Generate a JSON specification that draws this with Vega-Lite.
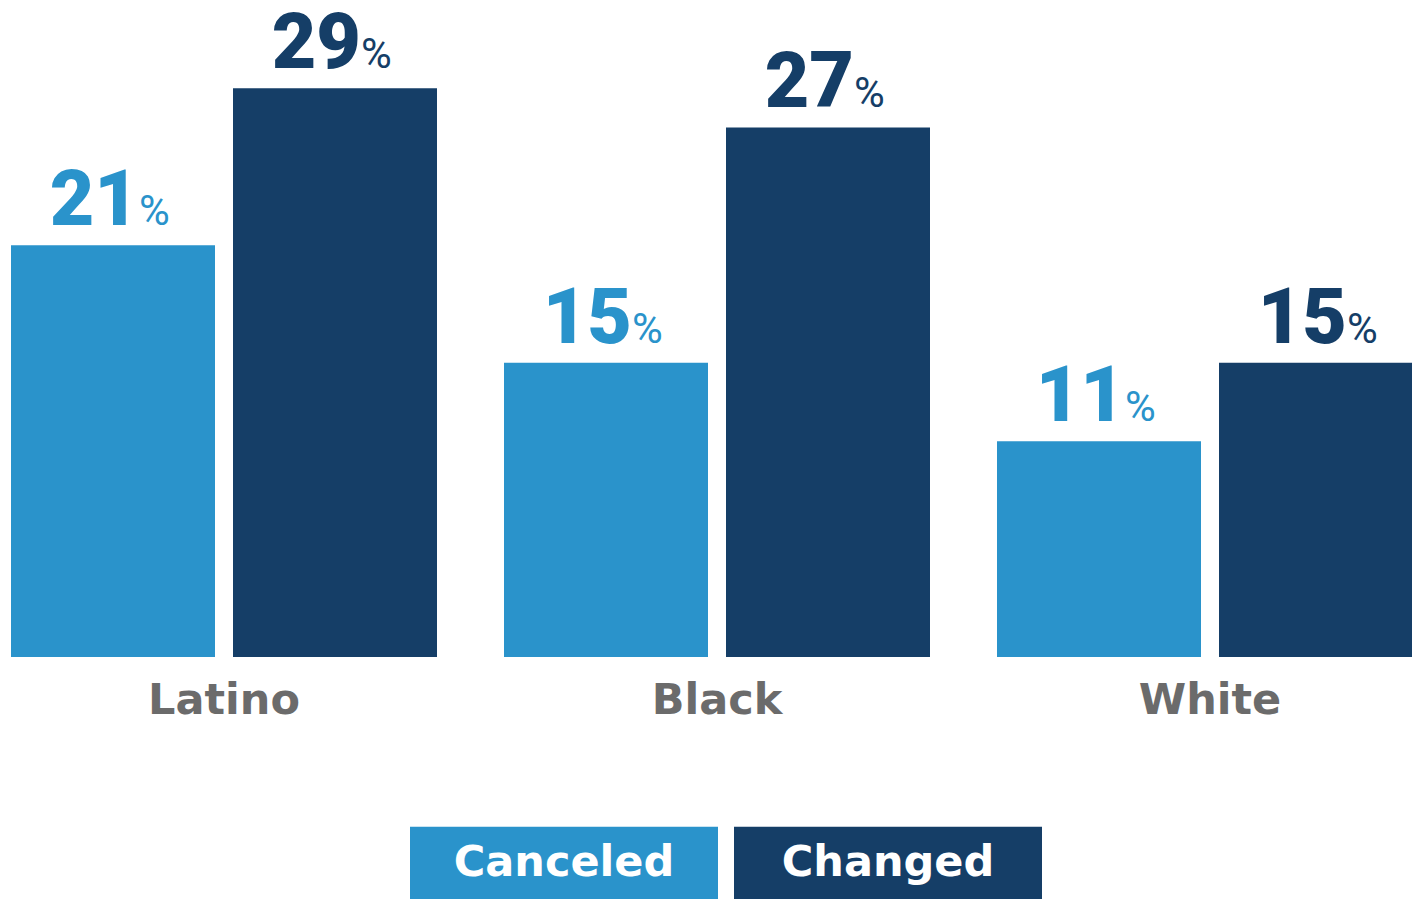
{
  "$schema": "https://vega.github.io/schema/vega-lite/v6.json",
  "autosize": {"type": "none"},
  "width": 1401,
  "height": 657,
  "padding": {"left": 11, "top": 0, "right": 0, "bottom": 242},
  "background": "white",
  "config": {"view": {"stroke": null}, "font": "Roboto"},
  "data": {"values": [
    {"group": "Latino", "series": "Canceled", "value": 21},
    {"group": "Latino", "series": "Changed", "value": 29},
    {"group": "Black", "series": "Canceled", "value": 15},
    {"group": "Black", "series": "Changed", "value": 27},
    {"group": "White", "series": "Canceled", "value": 11},
    {"group": "White", "series": "Changed", "value": 15}
  ]},
  "encoding": {
    "x": {"field": "group", "type": "nominal", "sort": ["Latino", "Black", "White"],
      "scale": {"paddingInner": 0.1359, "paddingOuter": 0, "range": [0, 1412]},
      "axis": {"title": null, "orient": "bottom", "domain": false, "ticks": false, "labelAngle": 0,
        "labelFontSize": 43, "labelFontWeight": "bold", "labelColor": "#6b6b6b", "labelPadding": 22, "labelFont": "DejaVu Sans"}},
    "xOffset": {"field": "series", "type": "nominal", "sort": ["Canceled", "Changed"],
      "scale": {"paddingInner": 0.0811, "paddingOuter": 0}},
    "y": {"field": "value", "type": "quantitative", "scale": {"domain": [0, 33.5], "nice": false, "zero": true}, "axis": null}
  },
  "layer": [
    {
      "mark": {"type": "bar", "clip": true},
      "encoding": {
        "color": {"field": "series", "type": "nominal", "sort": ["Canceled", "Changed"],
          "scale": {"domain": ["Canceled", "Changed"], "range": ["#2a93cb", "#153e67"]},
          "legend": {"title": null, "orient": "none", "legendX": 399, "legendY": 709, "direction": "horizontal",
            "symbolType": "M-1,-0.237H1V0.237H-1Z", "symbolSize": 94864, "symbolStrokeWidth": 0, "symbolOpacity": 1,
            "labelOffset": -154, "labelAlign": "center", "labelColor": "white", "labelFontSize": 43, "labelFontWeight": "bold",
            "labelFont": "DejaVu Sans", "labelLimit": 500, "columnPadding": 16, "padding": 0}}
      }
    },
    {
      "mark": {"type": "text", "align": "right", "baseline": "alphabetic", "dx": 26, "dy": -20, "fontSize": 77, "fontWeight": 900, "font": "Roboto"},
      "encoding": {
        "text": {"field": "value", "type": "quantitative"},
        "color": {"field": "series", "type": "nominal", "legend": null}
      }
    },
    {
      "mark": {"type": "text", "align": "left", "baseline": "alphabetic", "dx": 26, "dy": -20, "fontSize": 42, "fontWeight": "normal", "font": "Roboto", "text": "%"},
      "encoding": {
        "color": {"field": "series", "type": "nominal", "legend": null}
      }
    }
  ]
}
